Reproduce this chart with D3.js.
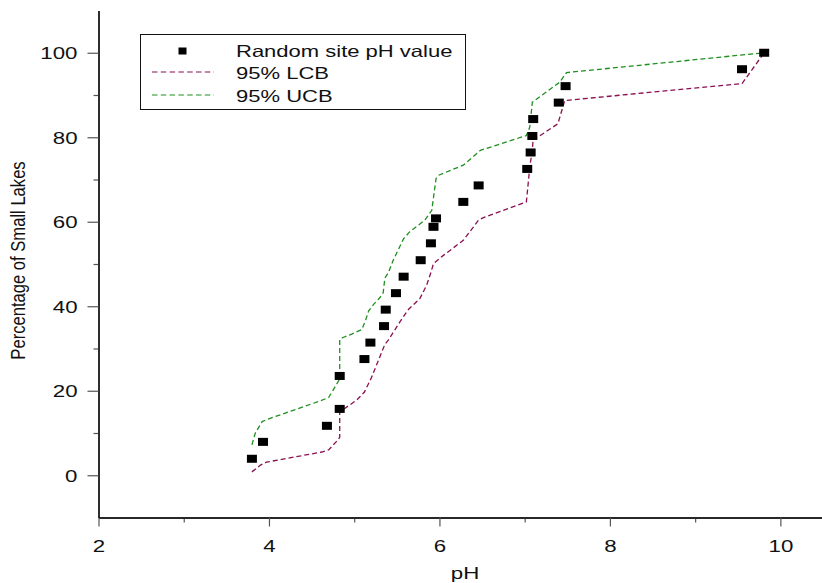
<!DOCTYPE html>
<html>
<head>
<meta charset="utf-8">
<script src="https://cdn.jsdelivr.net/npm/d3@7"></script>
<style>
  html, body { margin: 0; padding: 0; background: #fff; }
  svg { display: block; }
  text { font-family: "Liberation Sans", Arial, sans-serif; fill: #111; }
</style>
</head>
<body>
<svg id="chart" width="822" height="583"></svg>
<script>
// ---- Data ----
const sitePh  = [3.80, 3.93, 4.68, 4.83, 4.83, 5.12, 5.19, 5.35, 5.37, 5.49, 5.58, 5.78, 5.90, 5.93, 5.96, 6.28, 6.46, 7.03, 7.07, 7.09, 7.10, 7.40, 7.48, 9.55, 9.81];
const sitePct = [3.9, 7.9, 11.7, 15.7, 23.5, 27.5, 31.4, 35.3, 39.2, 43.1, 47.0, 50.9, 54.9, 58.8, 60.8, 64.7, 68.6, 72.5, 76.4, 80.3, 84.3, 88.2, 92.1, 96.1, 100];

const lcbPh  = [3.80, 3.90, 3.97, 4.62, 4.70, 4.81, 4.83, 4.83, 4.86, 5.03, 5.12, 5.20, 5.36, 5.40, 5.54, 5.63, 5.77, 5.85, 5.90, 5.93, 6.05, 6.28, 6.46, 6.53, 7.02, 7.06, 7.09, 7.10, 7.16, 7.39, 7.47, 9.55, 9.81];
const lcbPct = [0.8, 2.4, 3.1, 5.5, 6.0, 8.4, 9.0, 14.8, 15.4, 17.8, 19.7, 23.0, 31.0, 32.0, 36.4, 39.1, 41.8, 45.0, 48.0, 50.1, 52.1, 55.6, 60.4, 61.1, 64.7, 73.0, 77.0, 79.8, 80.1, 83.2, 88.7, 92.7, 100];

const ucbPh  = [3.80, 3.84, 3.92, 3.99, 4.60, 4.70, 4.76, 4.83, 4.83, 4.87, 4.97, 5.09, 5.13, 5.17, 5.23, 5.30, 5.34, 5.36, 5.40, 5.46, 5.58, 5.65, 5.83, 5.91, 5.96, 5.99, 6.28, 6.48, 7.02, 7.06, 7.09, 7.41, 7.49, 9.81];
const ucbPct = [7.2, 10.0, 12.7, 13.3, 17.6, 18.4, 20.4, 22.8, 32.2, 32.6, 33.4, 34.5, 36.5, 38.9, 40.5, 42.0, 43.2, 46.7, 47.9, 51.0, 56.0, 57.6, 60.4, 62.7, 70.2, 71.0, 73.4, 76.9, 80.4, 82.4, 88.3, 93.0, 95.3, 100];

const xMajorTicks = [2, 4, 6, 8, 10];
const xMinorTicks = [3, 5, 7, 9];
const yMajorTicks = [0, 20, 40, 60, 80, 100];
const yMinorTicks = [10, 30, 50, 70, 90];

const legendLabels = ["Random site pH value", "95% LCB", "95% UCB"];
const xTitle = "pH";
const yTitle = "Percentage of Small Lakes";

// ---- Styles ----
const LCB_COLOR = "#8b1050";
const UCB_COLOR = "#1f8f1f";
const STRETCH = 1.35;

const svg = d3.select("#chart");

const x = d3.scaleLinear().domain([2, 10.5]).range([98.5, 823]);
const y = d3.scaleLinear().domain([-10, 110]).range([517.5, 10.5]);

// ---- Axes ----
function styleAxis(g) {
  g.select(".domain").attr("stroke", "#1a1a1a").attr("stroke-width", 1.4);
  g.selectAll(".tick line").attr("stroke", "#555").attr("stroke-width", 1.2);
}

const xAxisG = svg.append("g").attr("transform", `translate(0,${y(-10)})`);
xAxisG.call(d3.axisBottom(x).tickValues(xMinorTicks).tickSize(5).tickSizeOuter(0).tickFormat(""));
xAxisG.call(styleAxis);
const xAxisMajor = svg.append("g").attr("transform", `translate(0,${y(-10)})`);
xAxisMajor.call(d3.axisBottom(x).tickValues(xMajorTicks).tickSize(9).tickSizeOuter(0).tickFormat(d3.format("d")));
xAxisMajor.call(styleAxis);
xAxisMajor.selectAll(".tick text")
  .attr("y", 34.8).attr("dy", 0)
  .attr("font-size", 16.5)
  .attr("fill", "#111")
  .attr("transform", `scale(${STRETCH},1)`);

const yAxisG = svg.append("g").attr("transform", `translate(${x(2)},0)`);
yAxisG.call(d3.axisLeft(y).tickValues(yMinorTicks).tickSize(5).tickSizeOuter(0).tickFormat(""));
yAxisG.call(styleAxis);
const yAxisMajor = svg.append("g").attr("transform", `translate(${x(2)},0)`);
yAxisMajor.call(d3.axisLeft(y).tickValues(yMajorTicks).tickSize(11).tickSizeOuter(0).tickFormat(d3.format("d")));
yAxisMajor.call(styleAxis);
yAxisMajor.selectAll(".tick text")
  .attr("x", -21 / STRETCH).attr("dy", "0.36em")
  .attr("font-size", 16.5)
  .attr("fill", "#111")
  .attr("transform", `scale(${STRETCH},1)`);

// ---- Axis titles ----
svg.append("text")
  .attr("transform", `translate(465,578.5) scale(${STRETCH},1)`)
  .attr("text-anchor", "middle")
  .attr("font-size", 16.5)
  .text(xTitle);

svg.append("text")
  .attr("transform", `translate(20.5,260.5) scale(1.2,1) rotate(-90)`)
  .attr("text-anchor", "middle")
  .attr("dy", "0.25em")
  .attr("font-size", 16.6)
  .text(yTitle);

// ---- Lines ----
const line = d3.line().x(d => x(d[0])).y(d => y(d[1]));
const lcbData = lcbPh.map((p, i) => [p, lcbPct[i]]);
const ucbData = ucbPh.map((p, i) => [p, ucbPct[i]]);

svg.append("path").datum(lcbData)
  .attr("d", line).attr("fill", "none")
  .attr("stroke", LCB_COLOR).attr("stroke-width", 1.3)
  .attr("stroke-dasharray", "5,3");
svg.append("path").datum(ucbData)
  .attr("d", line).attr("fill", "none")
  .attr("stroke", UCB_COLOR).attr("stroke-width", 1.3)
  .attr("stroke-dasharray", "5,3");

// ---- Points ----
const pts = sitePh.map((p, i) => [p, sitePct[i]]);
svg.append("g").selectAll("rect").data(pts).join("rect")
  .attr("x", d => x(d[0]) - 5)
  .attr("y", d => y(d[1]) - 4)
  .attr("width", 10).attr("height", 8)
  .attr("fill", "#000");

// ---- Legend ----
const lg = svg.append("g");
lg.append("rect")
  .attr("x", 140.5).attr("y", 34.5).attr("width", 325).attr("height", 75)
  .attr("fill", "#fff").attr("stroke", "#111").attr("stroke-width", 1);
lg.append("rect")
  .attr("x", 178.5).attr("y", 47.5).attr("width", 8).attr("height", 7)
  .attr("fill", "#000");
lg.append("line")
  .attr("x1", 152).attr("x2", 214).attr("y1", 72).attr("y2", 72)
  .attr("stroke", LCB_COLOR).attr("stroke-width", 1.2).attr("stroke-dasharray", "5.5,3.3");
lg.append("line")
  .attr("x1", 152).attr("x2", 214).attr("y1", 95).attr("y2", 95)
  .attr("stroke", UCB_COLOR).attr("stroke-width", 1.2).attr("stroke-dasharray", "5.5,3.3");
const baselines = [56.7, 78.5, 101.7];
legendLabels.forEach((t, i) => {
  lg.append("text")
    .attr("transform", `translate(236,${baselines[i]}) scale(${STRETCH},1)`)
    .attr("font-size", 16.3)
    .text(t);
});
</script>
</body>
</html>
